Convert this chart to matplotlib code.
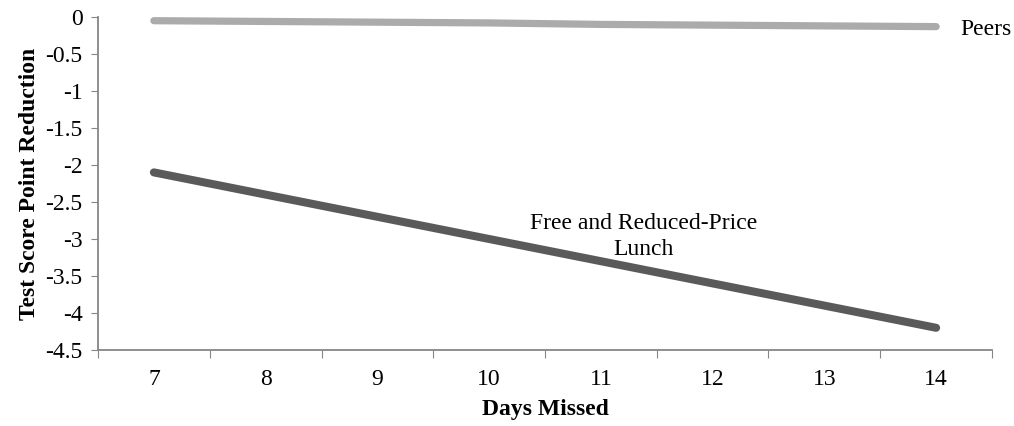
import numpy as np
import matplotlib.pyplot as plt
from matplotlib.ticker import FixedLocator, NullFormatter

days = [7, 8, 9, 10, 11, 12, 13, 14]
peers = [-0.05, -0.06, -0.07, -0.08, -0.10, -0.11, -0.12, -0.13]
frpl = [-2.1, -2.4, -2.7, -3.0, -3.3, -3.6, -3.9, -4.2]
yticks = [0, -0.5, -1, -1.5, -2, -2.5, -3, -3.5, -4, -4.5]

plt.rcParams['font.family'] = ['Liberation Serif', 'DejaVu Serif']
plt.rcParams['font.size'] = 17

fig = plt.figure(figsize=(10.14, 4.26), dpi=100)
ax = fig.add_axes([98 / 1014, 76 / 426, 894 / 1014, 333 / 426])

ax.plot(days, peers, color='#ABABAB', lw=5.2, solid_capstyle='round')
ax.plot(days, frpl, color='#5A5A5A', lw=5.8, solid_capstyle='round')

ax.set_xlim(6.5, 14.5)
ax.set_ylim(-4.5, 0)
ax.xaxis.set_major_locator(FixedLocator(np.arange(6.5, 15, 1)))
ax.xaxis.set_major_formatter(NullFormatter())
ax.xaxis.set_minor_locator(FixedLocator(days))
ax.set_xticklabels([str(d) for d in days], minor=True)
ax.tick_params(axis='x', which='minor', length=0, pad=14)
ax.tick_params(axis='x', which='major', length=6, color='#868686', direction='out')
ax.set_yticks(yticks)
ax.set_yticklabels(['0' if v == 0 else f'{v:g}' for v in yticks])
ax.tick_params(axis='y', length=5, color='#868686', pad=6)

for s in ['top', 'right']:
    ax.spines[s].set_visible(False)
for s in ['left', 'bottom']:
    ax.spines[s].set_color('#868686')
    ax.spines[s].set_linewidth(1.3)

ax.text(14.22, -0.17, 'Peers', ha='left', va='center')
ax.text(11.38, -2.97, 'Free and Reduced-Price\nLunch', ha='center', va='center',
        linespacing=1.3)

ax.set_xlabel('Days Missed', fontweight='bold', fontsize=17, labelpad=6)
ax.set_ylabel('Test Score Point Reduction', fontweight='bold', fontsize=17,
              labelpad=4)

fig.savefig('out.png', dpi=100)
